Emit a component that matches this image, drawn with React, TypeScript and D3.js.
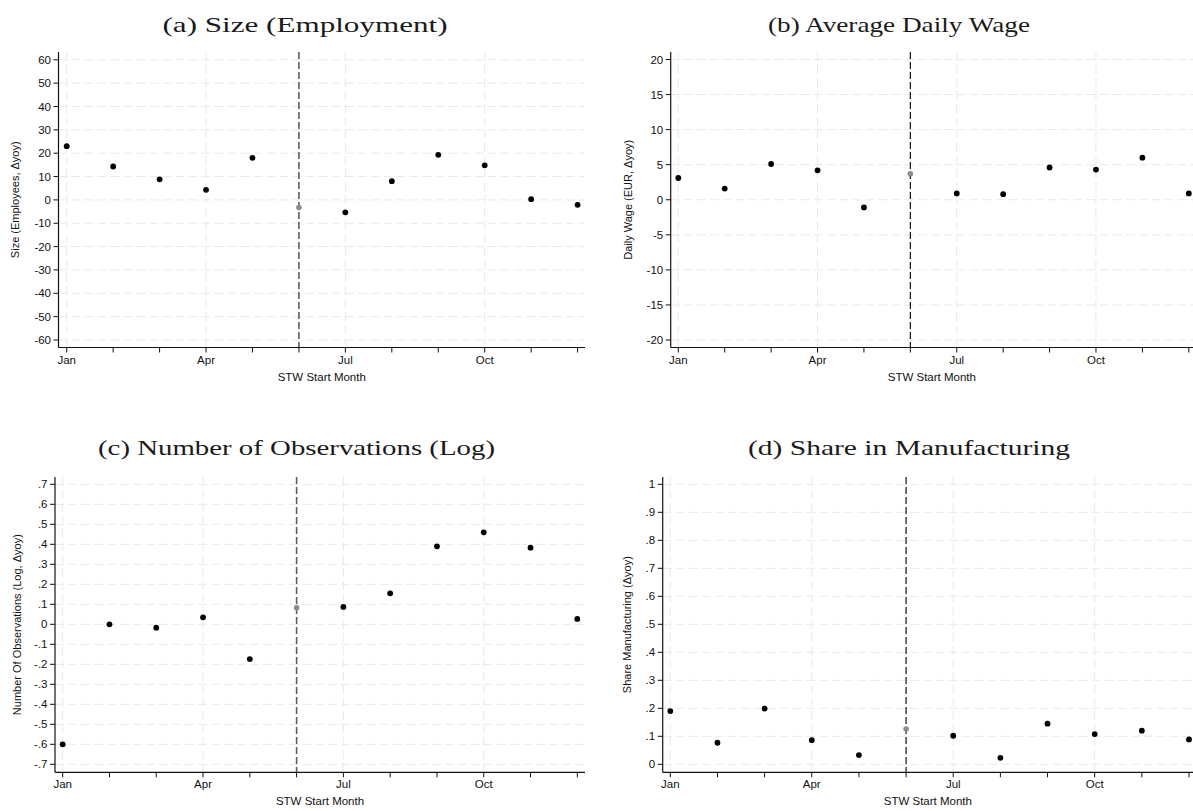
import React from "react";
import * as d3 from "d3";

const months = [1, 2, 3, 4, 5, 6, 7, 8, 9, 10, 11, 12];
const monthTickLabels = ["Jan", "Apr", "Jul", "Oct"];
const monthTickPositions = [1, 4, 7, 10];
const referenceMonth = 6;

const sizeValues = [23.0, 14.3, 8.8, 4.3, 18.0, -3.3, -5.3, 8.0, 19.3, 14.8, 0.3, -2.1];
const wageValues = [3.1, 1.6, 5.1, 4.2, -1.1, 3.7, 0.9, 0.8, 4.6, 4.3, 6.0, 0.9];
const obsValues = [-0.6, 0.0, -0.017, 0.035, -0.174, 0.083, 0.087, 0.155, 0.39, 0.46, 0.383, 0.027];
const manufValues = [0.19, 0.077, 0.199, 0.086, 0.033, 0.126, 0.102, 0.023, 0.145, 0.108, 0.12, 0.089];

const sizeTicks = d3.range(-60, 61, 10);
const wageTicks = d3.range(-20, 21, 5);
const obsTicks = d3.range(-7, 8, 1).map((v) => v / 10);
const manufTicks = d3.range(0, 11, 1).map((v) => v / 10);

const titles = [
  "(a) Size (Employment)",
  "(b) Average Daily Wage",
  "(c) Number of Observations (Log)",
  "(d) Share in Manufacturing",
];
const yTitles = [
  "Size (Employees, \u0394yoy)",
  "Daily Wage (EUR, \u0394yoy)",
  "Number Of Observations (Log, \u0394yoy)",
  "Share Manufacturing (\u0394yoy)",
];
const xTitle = "STW Start Month";

const stataFmt = (v: number) => {
  const r = Math.round(v * 1000) / 1000;
  if (r === 0) return "0";
  let s = String(r);
  s = s.replace(/^0\./, ".").replace(/^-0\./, "-.");
  return s;
};

type Layout = {
  axisX: number; janX: number; decX: number; endX: number;
  topTickY: number; botTickY: number; axisY: number; axisTopY: number;
  titleX: number; titleY: number; titleW: number;
  yTitleX: number; refColor: string; refWidth: number; refDash: string;
};

const layouts: Layout[] = [
  { axisX: 58.5, janX: 66.7, decX: 577.6, endX: 585, topTickY: 59.8, botTickY: 340, axisY: 347.5, axisTopY: 52,
    titleX: 305, titleY: 32, titleW: 285, yTitleX: 15, refColor: "#5e5e5e", refWidth: 1.6, refDash: "7,3" },
  { axisX: 670.7, janX: 678.3, decX: 1188.8, endX: 1193, topTickY: 59.5, botTickY: 340, axisY: 347.5, axisTopY: 52,
    titleX: 899, titleY: 32, titleW: 262, yTitleX: 628, refColor: "#111", refWidth: 1.2, refDash: "7,3" },
  { axisX: 55, janX: 62.7, decX: 577.3, endX: 585, topTickY: 484.3, botTickY: 764.3, axisY: 772.3, axisTopY: 477,
    titleX: 296.5, titleY: 455, titleW: 397, yTitleX: 17, refColor: "#5e5e5e", refWidth: 1.6, refDash: "7,3" },
  { axisX: 662.7, janX: 670.3, decX: 1189, endX: 1193, topTickY: 484.3, botTickY: 764.3, axisY: 772.3, axisTopY: 477,
    titleX: 909, titleY: 455, titleW: 322, yTitleX: 627, refColor: "#111", refWidth: 1.2, refDash: "7,3" },
];

const panelValues = [sizeValues, wageValues, obsValues, manufValues];
const panelTicks = [sizeTicks, wageTicks, obsTicks, manufTicks];

const sans = "'Liberation Sans', Arial, sans-serif";
const serif = "'Liberation Serif', 'DejaVu Serif', serif";

function Panel({ i }: { i: number }) {
  const L = layouts[i];
  const values = panelValues[i];
  const ticks = panelTicks[i];
  const x = d3.scaleLinear().domain([1, 12]).range([L.janX, L.decX]);
  const y = d3
    .scaleLinear()
    .domain([d3.min(ticks) as number, d3.max(ticks) as number])
    .range([L.botTickY, L.topTickY]);
  const gridColor = "#e9e9e9";
  return (
    <g>
      <text x={L.titleX} y={L.titleY} textAnchor="middle" fontFamily={serif} fontSize={21}
        textLength={L.titleW} lengthAdjust="spacingAndGlyphs" fill="#1a1a1a">
        {titles[i]}
      </text>
      {ticks.map((t) => (
        <line key={"h" + t} x1={L.axisX} x2={L.endX} y1={y(t)} y2={y(t)} stroke={gridColor} strokeWidth={1} strokeDasharray="9,4" />
      ))}
      {monthTickPositions.map((m) => (
        <line key={"v" + m} x1={x(m)} x2={x(m)} y1={L.axisTopY} y2={L.axisY} stroke={gridColor} strokeWidth={1} strokeDasharray="9,4" />
      ))}
      <line x1={x(referenceMonth)} x2={x(referenceMonth)} y1={L.axisTopY} y2={L.axisY}
        stroke={L.refColor} strokeWidth={L.refWidth} strokeDasharray={L.refDash} />
      <line x1={L.axisX} x2={L.axisX} y1={L.axisTopY} y2={L.axisY} stroke="#111" strokeWidth={1.2} />
      <line x1={L.axisX} x2={L.endX} y1={L.axisY} y2={L.axisY} stroke="#111" strokeWidth={1.2} />
      {ticks.map((t) => (
        <g key={"yt" + t}>
          <line x1={L.axisX - 5} x2={L.axisX} y1={y(t)} y2={y(t)} stroke="#111" strokeWidth={1} />
          <text x={L.axisX - 7.5} y={y(t)} dy="0.35em" textAnchor="end" fontFamily={sans} fontSize={11.5} fill="#111">
            {stataFmt(t)}
          </text>
        </g>
      ))}
      {months.map((m) => (
        <line key={"xt" + m} x1={x(m)} x2={x(m)} y1={L.axisY} y2={L.axisY + 5} stroke="#111" strokeWidth={1} />
      ))}
      {monthTickPositions.map((m, k) => (
        <text key={"xl" + m} x={x(m)} y={L.axisY + 16} textAnchor="middle" fontFamily={sans} fontSize={11.5} fill="#111">
          {monthTickLabels[k]}
        </text>
      ))}
      <text x={(L.axisX + L.endX) / 2} y={L.axisY + 33} textAnchor="middle" fontFamily={sans} fontSize={11.5} fill="#111">
        {xTitle}
      </text>
      <text transform={`translate(${L.yTitleX},${(L.axisTopY + L.axisY) / 2}) rotate(-90)`} textAnchor="middle"
        dy="0.35em" fontFamily={sans} fontSize={11} fill="#111">
        {yTitles[i]}
      </text>
      {values.map((v, k) => (
        <circle key={"p" + k} cx={x(months[k])} cy={y(v)}
          r={months[k] === referenceMonth ? 2.8 : 2.9}
          fill={months[k] === referenceMonth ? "#8c8c8c" : "#000"} />
      ))}
    </g>
  );
}

export default function App() {
  return (
    <svg width={1193} height={811} style={{ position: "absolute", left: 0, top: 0, background: "#fff" }}>
      <rect width={1193} height={811} fill="#fff" />
      {[0, 1, 2, 3].map((i) => (
        <Panel key={i} i={i} />
      ))}
    </svg>
  );
}
